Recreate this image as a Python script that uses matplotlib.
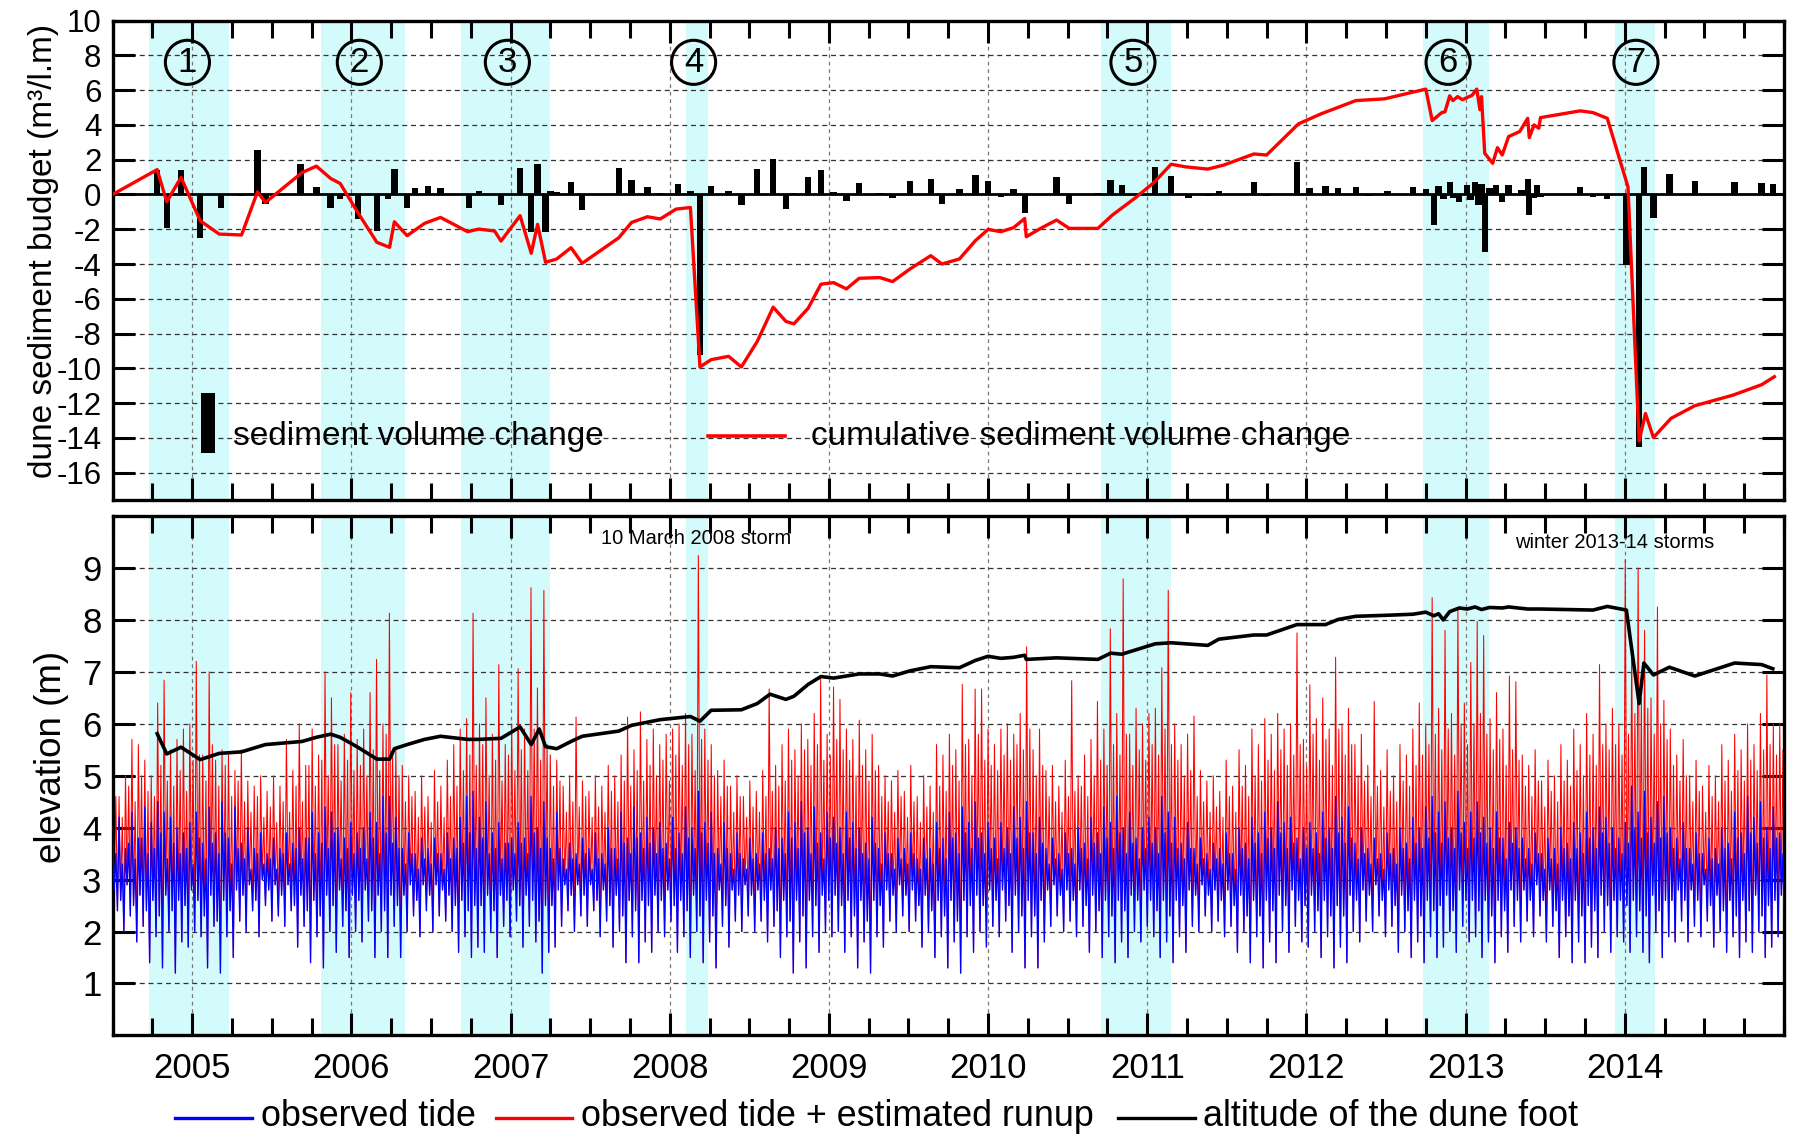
import numpy as np
import matplotlib
matplotlib.use('Agg')
import matplotlib.pyplot as plt
from matplotlib.ticker import FixedLocator, MultipleLocator
from matplotlib.lines import Line2D
from matplotlib.patches import Rectangle

plt.rcParams['font.family'] = ['Liberation Sans', 'DejaVu Sans']
plt.rcParams['axes.unicode_minus'] = False

# periodos de temporales (zonas sombreadas)
storm_start = [2004.73, 2005.81, 2006.69, 2008.10, 2010.71, 2012.73, 2013.94]
storm_end = [2005.23, 2006.34, 2007.25, 2008.24, 2011.15, 2013.15, 2014.19]
storm_mark = [2004.97, 2006.05, 2006.98, 2008.15, 2010.91, 2012.89, 2014.07]
storm_num = ['1', '2', '3', '4', '5', '6', '7']

# cambios de volumen entre levantamientos (barras)
bar_years = [2004.78, 2004.84, 2004.93, 2005.05, 2005.18, 2005.31, 2005.41, 2005.46, 2005.68, 2005.78,
             2005.87, 2005.93, 2006.04, 2006.16, 2006.23, 2006.27, 2006.35, 2006.40, 2006.48, 2006.56,
             2006.74, 2006.80, 2006.94, 2007.06, 2007.13, 2007.17, 2007.22, 2007.25, 2007.29, 2007.38,
             2007.45, 2007.68, 2007.76, 2007.86, 2007.94, 2008.05, 2008.13, 2008.19, 2008.26, 2008.37,
             2008.45, 2008.55, 2008.65, 2008.73, 2008.78, 2008.87, 2008.95, 2009.03, 2009.11, 2009.19,
             2009.32, 2009.40, 2009.51, 2009.64, 2009.71, 2009.82, 2009.92, 2010.00, 2010.08, 2010.16,
             2010.23, 2010.43, 2010.51, 2010.69, 2010.77, 2010.84, 2011.05, 2011.15, 2011.26, 2011.38,
             2011.45, 2011.67, 2011.75, 2011.94, 2012.02, 2012.12, 2012.20, 2012.31, 2012.39, 2012.51,
             2012.67, 2012.75, 2012.80, 2012.83, 2012.86, 2012.90, 2012.92, 2012.96, 2013.01, 2013.03,
             2013.06, 2013.08, 2013.10, 2013.12, 2013.15, 2013.19, 2013.23, 2013.27, 2013.35, 2013.39,
             2013.40, 2013.43, 2013.45, 2013.47, 2013.72, 2013.80, 2013.89, 2014.01, 2014.09, 2014.12,
             2014.18, 2014.28, 2014.44, 2014.69, 2014.86, 2014.93]
bar_values = [1.43, -1.95, 1.43, -2.52, -0.80, -0.10, 2.54, -0.55, 1.74, 0.44,
              -0.80, -0.27, -1.41, -2.10, -0.27, 1.49, -0.80, 0.38, 0.50, 0.40,
              -0.80, 0.21, -0.61, 1.55, -2.14, 1.74, -2.14, 0.19, 0.15, 0.73,
              -0.90, 1.55, 0.86, 0.44, 0.06, 0.59, 0.19, -9.22, 0.50, 0.21,
              -0.61, 1.49, 2.06, -0.84, 0.06, 0.98, 1.43, 0.15, -0.36, 0.67,
              0.10, -0.23, 0.76, 0.88, -0.52, 0.34, 1.11, 0.76, -0.13, 0.34,
              -1.09, 0.98, -0.52, 0.06, 0.82, 0.57, 1.59, 1.05, -0.23, -0.08,
              0.19, 0.73, -0.08, 1.85, 0.35, 0.48, 0.38, 0.44, -0.08, 0.19,
              0.44, 0.31, -1.77, 0.48, -0.25, 0.73, -0.23, -0.42, 0.54, -0.30,
              0.73, -0.61, 0.63, -3.33, 0.35, 0.57, -0.42, 0.54, 0.25, 0.88,
              -1.19, -0.23, 0.57, -0.15, 0.44, -0.13, -0.27, -4.04, -14.5, 1.59,
              -1.34, 1.15, 0.76, 0.69, 0.67, 0.63]

# cambio acumulado (linea roja)
cum_years = [2004.50, 2004.78, 2004.84, 2004.93, 2005.05, 2005.17, 2005.31, 2005.41, 2005.46, 2005.69,
             2005.78, 2005.87, 2005.93, 2006.04, 2006.16, 2006.24, 2006.27, 2006.35, 2006.46, 2006.56,
             2006.73, 2006.80, 2006.90, 2006.94, 2007.06, 2007.13, 2007.17, 2007.22, 2007.29, 2007.38,
             2007.45, 2007.68, 2007.76, 2007.86, 2007.94, 2008.04, 2008.13, 2008.19, 2008.26, 2008.37,
             2008.45, 2008.55, 2008.65, 2008.73, 2008.78, 2008.87, 2008.95, 2009.03, 2009.11, 2009.19,
             2009.32, 2009.40, 2009.51, 2009.64, 2009.71, 2009.82, 2009.92, 2010.00, 2010.08, 2010.16,
             2010.23, 2010.24, 2010.33, 2010.43, 2010.51, 2010.69, 2010.78, 2010.92, 2011.04, 2011.15,
             2011.24, 2011.38, 2011.48, 2011.67, 2011.75, 2011.95, 2012.09, 2012.31, 2012.49, 2012.75,
             2012.79, 2012.85, 2012.87, 2012.90, 2012.92, 2012.95, 2012.98, 2013.01, 2013.04, 2013.07,
             2013.09, 2013.10, 2013.12, 2013.17, 2013.20, 2013.23, 2013.27, 2013.34, 2013.39, 2013.40,
             2013.43, 2013.46, 2013.47, 2013.72, 2013.80, 2013.89, 2014.02, 2014.09, 2014.13, 2014.18,
             2014.29, 2014.44, 2014.68, 2014.86, 2014.94]
cum_values = [0.00, 1.43, -0.42, 0.98, -1.51, -2.28, -2.33, 0.15, -0.46, 1.26,
              1.63, 0.92, 0.63, -1.03, -2.75, -3.04, -1.57, -2.37, -1.66, -1.32,
              -2.14, -1.99, -2.10, -2.68, -1.22, -3.38, -1.72, -3.90, -3.71, -3.06,
              -3.96, -2.49, -1.61, -1.28, -1.41, -0.84, -0.75, -9.92, -9.50, -9.31,
              -9.92, -8.45, -6.48, -7.30, -7.44, -6.54, -5.16, -5.07, -5.43, -4.82,
              -4.78, -5.01, -4.28, -3.52, -4.00, -3.71, -2.66, -2.01, -2.14, -1.91,
              -1.38, -2.43, -1.95, -1.47, -1.95, -1.95, -1.19, -0.23, 0.67, 1.74,
              1.59, 1.46, 1.69, 2.33, 2.27, 4.06, 4.63, 5.40, 5.50, 6.06,
              4.25, 4.71, 4.75, 5.67, 5.40, 5.63, 5.45, 5.58, 5.70, 6.06,
              4.87, 5.63, 2.37, 1.79, 2.69, 2.27, 3.33, 3.62, 4.38, 3.27,
              4.00, 3.81, 4.42, 4.81, 4.71, 4.38, 0.44, -14.17, -12.60, -13.98,
              -12.88, -12.15, -11.54, -10.94, -10.48]

# altitud del pie de duna
foot_years = [2004.78, 2004.84, 2004.93, 2005.05, 2005.17, 2005.31, 2005.46, 2005.69, 2005.78, 2005.87,
              2005.93, 2006.04, 2006.16, 2006.24, 2006.27, 2006.35, 2006.46, 2006.56, 2006.73, 2006.80,
              2006.94, 2007.06, 2007.13, 2007.18, 2007.22, 2007.29, 2007.38, 2007.45, 2007.68, 2007.76,
              2007.94, 2008.13, 2008.19, 2008.26, 2008.45, 2008.55, 2008.63, 2008.73, 2008.78, 2008.87,
              2008.95, 2009.03, 2009.19, 2009.32, 2009.40, 2009.51, 2009.64, 2009.82, 2009.92, 2010.00,
              2010.08, 2010.16, 2010.23, 2010.24, 2010.43, 2010.69, 2010.77, 2010.84, 2011.05, 2011.15,
              2011.38, 2011.45, 2011.67, 2011.75, 2011.94, 2012.12, 2012.20, 2012.31, 2012.51, 2012.67,
              2012.75, 2012.80, 2012.83, 2012.86, 2012.90, 2012.96, 2013.01, 2013.06, 2013.10, 2013.15,
              2013.23, 2013.27, 2013.39, 2013.47, 2013.80, 2013.89, 2014.01, 2014.09, 2014.12, 2014.18,
              2014.28, 2014.44, 2014.69, 2014.86, 2014.93]
foot_values = [5.81, 5.42, 5.55, 5.31, 5.43, 5.46, 5.60, 5.66, 5.74, 5.80,
               5.74, 5.55, 5.32, 5.32, 5.52, 5.60, 5.70, 5.76, 5.70, 5.70,
               5.72, 5.94, 5.60, 5.90, 5.56, 5.52, 5.66, 5.76, 5.86, 5.97,
               6.08, 6.14, 6.05, 6.26, 6.27, 6.39, 6.57, 6.47, 6.53, 6.76,
               6.91, 6.88, 6.96, 6.96, 6.92, 7.02, 7.10, 7.08, 7.22, 7.30,
               7.26, 7.28, 7.32, 7.24, 7.27, 7.24, 7.36, 7.34, 7.54, 7.56,
               7.51, 7.63, 7.71, 7.71, 7.91, 7.91, 8.01, 8.07, 8.09, 8.11,
               8.15, 8.08, 8.12, 8.00, 8.16, 8.23, 8.21, 8.25, 8.20, 8.24,
               8.23, 8.25, 8.21, 8.21, 8.19, 8.26, 8.19, 6.39, 7.17, 6.94,
               7.09, 6.92, 7.17, 7.14, 7.06]

# marea observada, por ciclo quincenal: pleamar viva, valle, pico secundario, valle profundo
tide_high = [3.9, 4.2, 3.6, 4.3, 3.8, 4.4, 4.1, 4.5, 4.3, 4.2, 4.0, 3.9, 4.1,
             4.3, 3.7, 4.4, 3.9, 4.5, 3.8, 4.4, 3.7, 4.0, 3.6, 3.9, 3.5, 3.8, 3.6, 3.9, 3.7, 4.0, 3.8, 4.3, 3.9, 4.4, 4.3, 4.0, 3.8, 4.1,
             3.9, 4.0, 4.3, 4.1, 4.6, 4.6, 4.2, 3.6, 3.9, 3.5, 3.8, 3.6, 3.8, 3.5, 3.9, 3.8, 4.2, 4.6, 4.7, 4.2, 4.5, 3.9, 4.1, 3.7, 3.8,
             4.1, 3.8, 4.6, 4.0, 4.5, 3.6, 4.3, 3.4, 3.7, 3.5, 3.8, 3.6, 3.9, 3.5, 4.0, 3.6, 4.3, 3.8, 4.4, 3.9, 4.2, 4.0, 4.1, 3.7,
             4.2, 3.9, 4.4, 4.0, 4.7, 4.1, 4.3, 3.6, 4.1, 3.5, 3.9, 3.4, 3.8, 3.5, 3.9, 3.6, 4.0, 3.8, 4.3, 4.1, 4.5, 4.0, 4.4, 3.9, 4.3,
             4.2, 4.0, 4.3, 4.1, 4.0, 3.7, 4.2, 3.6, 3.9, 3.5, 3.8, 3.6, 3.9, 3.4, 3.8, 3.6, 4.1, 3.8, 4.3, 3.9, 4.4, 4.1, 4.5, 3.9, 4.1,
             3.8, 4.1, 4.0, 4.4, 4.2, 4.5, 3.9, 4.2, 3.6, 3.8, 3.5, 3.9, 3.6, 4.0, 3.7, 4.2, 3.9, 4.4, 4.1, 4.6, 4.0, 4.3, 3.8, 4.0,
             4.2, 4.0, 4.6, 4.3, 4.2, 3.7, 4.1, 3.6, 3.8, 3.5, 3.7, 3.6, 3.9, 3.5, 4.0, 3.7, 4.2, 3.9, 4.3, 4.0, 4.5, 4.1, 4.2, 3.8, 4.0,
             4.1, 3.9, 4.3, 4.0, 4.6, 4.2, 4.4, 3.7, 4.0, 3.6, 3.8, 3.5, 3.9, 3.6, 4.0, 3.7, 4.2, 4.0, 4.4, 4.6, 4.3, 4.5, 4.0, 4.7, 4.1,
             4.3, 4.5, 4.2, 4.0, 4.3, 3.8, 4.1, 4.0, 3.8, 3.6, 3.9, 3.5, 3.8, 3.6, 4.0, 3.7, 4.1, 3.9, 4.3, 4.0, 4.4, 4.2, 4.0, 3.8, 4.1,
             4.8, 4.3, 4.7, 4.2, 4.5, 4.6, 4.0, 3.8, 4.1, 3.6, 3.9, 3.5, 3.8, 3.6, 4.0, 3.7, 4.3, 3.9, 4.6, 4.2, 4.5, 4.0, 4.4, 3.9]
tide_mid_low = [2.8, 2.6, 2.9, 2.5, 2.7, 2.4, 2.6, 2.3, 2.7, 2.4, 2.6, 2.5, 2.8,
                2.6, 2.3, 2.7, 2.2, 2.6, 2.4, 2.8, 2.7, 2.9, 2.6, 3.0, 2.8, 2.9, 2.7, 2.9, 2.5, 2.7, 2.4, 2.6, 2.3, 2.7, 2.5, 2.8, 2.4, 2.7,
                2.6, 2.8, 2.4, 2.7, 2.4, 2.7, 2.5, 2.7, 2.9, 2.6, 2.9, 2.7, 2.9, 2.8, 2.7, 2.5, 2.6, 2.4, 2.5, 2.5, 2.7, 2.4, 2.7, 2.6, 2.8,
                2.5, 2.7, 2.6, 2.2, 2.5, 2.5, 2.8, 2.9, 2.7, 2.9, 2.7, 2.9, 2.6, 2.8, 2.5, 2.7, 2.3, 2.6, 2.4, 2.6, 2.5, 2.7, 2.6, 2.8,
                2.5, 2.6, 2.4, 2.7, 2.3, 2.6, 2.3, 2.8, 2.5, 2.8, 2.7, 2.9, 2.7, 2.8, 2.6, 2.8, 2.4, 2.6, 2.2, 2.6, 2.3, 2.6, 2.5, 2.7, 2.6,
                2.7, 2.5, 2.6, 2.3, 2.6, 2.2, 2.6, 2.5, 2.8, 2.7, 2.9, 2.7, 2.8, 2.5, 2.7, 2.4, 2.6, 2.3, 2.6, 2.2, 2.6, 2.5, 2.7, 2.5, 2.8,
                2.6, 2.8, 2.5, 2.7, 2.3, 2.6, 2.3, 2.6, 2.8, 2.9, 2.7, 2.8, 2.6, 2.8, 2.5, 2.7, 2.4, 2.6, 2.3, 2.6, 2.4, 2.7, 2.6, 2.8,
                2.6, 2.4, 2.6, 2.3, 2.6, 2.5, 2.8, 2.7, 2.9, 2.7, 2.8, 2.6, 2.8, 2.5, 2.7, 2.3, 2.6, 2.3, 2.6, 2.4, 2.7, 2.5, 2.8, 2.6, 2.5,
                2.7, 2.4, 2.6, 2.3, 2.5, 2.3, 2.7, 2.6, 2.8, 2.7, 2.9, 2.6, 2.8, 2.5, 2.7, 2.4, 2.6, 2.3, 2.6, 2.4, 2.5, 2.7, 2.4, 2.8, 2.6,
                2.6, 2.4, 2.6, 2.3, 2.6, 2.4, 2.8, 2.6, 2.8, 2.6, 2.9, 2.6, 2.8, 2.4, 2.6, 2.3, 2.6, 2.3, 2.5, 2.4, 2.7, 2.5, 2.6, 2.6, 2.5,
                2.6, 2.4, 2.3, 2.7, 2.4, 2.6, 2.6, 2.8, 2.6, 2.8, 2.6, 2.9, 2.5, 2.7, 2.4, 2.6, 2.3, 2.6, 2.4, 2.7, 2.3, 2.5, 2.6, 2.7]
tide_mid = [3.5, 3.3, 3.7, 3.4, 3.8, 3.5, 3.6, 3.9, 3.4, 3.7, 3.5, 3.6, 3.3,
            3.8, 3.4, 3.7, 3.5, 3.9, 3.3, 3.6, 3.4, 3.2, 3.5, 3.3, 3.4, 3.2, 3.5, 3.3, 3.6, 3.4, 3.8, 3.5, 3.7, 3.6, 3.9, 3.4, 3.6, 3.5,
            3.6, 3.4, 3.8, 3.5, 3.9, 3.7, 3.6, 3.3, 3.5, 3.2, 3.4, 3.3, 3.5, 3.2, 3.4, 3.6, 3.7, 3.9, 3.6, 3.8, 3.5, 3.6, 3.4, 3.7, 3.5,
            3.7, 3.5, 3.9, 3.6, 3.8, 3.4, 3.6, 3.2, 3.4, 3.3, 3.5, 3.2, 3.4, 3.3, 3.6, 3.4, 3.7, 3.5, 3.8, 3.6, 3.7, 3.5, 3.6, 3.4,
            3.6, 3.5, 3.8, 3.6, 3.9, 3.7, 3.5, 3.3, 3.6, 3.2, 3.5, 3.2, 3.4, 3.3, 3.5, 3.4, 3.6, 3.5, 3.8, 3.6, 3.9, 3.5, 3.7, 3.4, 3.8,
            3.7, 3.5, 3.8, 3.6, 3.5, 3.4, 3.7, 3.3, 3.5, 3.2, 3.4, 3.3, 3.5, 3.2, 3.4, 3.3, 3.6, 3.4, 3.8, 3.5, 3.9, 3.6, 3.8, 3.5, 3.6,
            3.4, 3.6, 3.5, 3.8, 3.6, 3.9, 3.5, 3.7, 3.3, 3.4, 3.2, 3.5, 3.3, 3.6, 3.4, 3.7, 3.5, 3.8, 3.6, 3.9, 3.5, 3.7, 3.4, 3.6,
            3.7, 3.5, 3.9, 3.7, 3.6, 3.4, 3.6, 3.3, 3.4, 3.2, 3.4, 3.3, 3.5, 3.2, 3.6, 3.4, 3.7, 3.5, 3.8, 3.6, 3.9, 3.6, 3.7, 3.4, 3.6,
            3.6, 3.5, 3.8, 3.6, 3.9, 3.7, 3.8, 3.4, 3.5, 3.3, 3.4, 3.2, 3.5, 3.3, 3.6, 3.4, 3.7, 3.6, 3.8, 3.9, 3.7, 3.8, 3.6, 3.9, 3.6,
            3.8, 3.9, 3.7, 3.6, 3.8, 3.4, 3.7, 3.6, 3.4, 3.3, 3.5, 3.2, 3.4, 3.3, 3.6, 3.4, 3.6, 3.5, 3.8, 3.6, 3.9, 3.7, 3.6, 3.5, 3.7,
            4.0, 3.8, 3.9, 3.7, 3.8, 3.9, 3.6, 3.4, 3.6, 3.3, 3.5, 3.2, 3.4, 3.3, 3.6, 3.4, 3.8, 3.5, 3.9, 3.7, 3.8, 3.6, 3.8, 3.5]
tide_low = [2.4, 2.0, 2.3, 1.8, 2.1, 1.4, 1.9, 1.3, 2.0, 1.2, 1.8, 1.7, 2.0,
            1.9, 1.3, 2.1, 1.2, 1.9, 1.5, 2.2, 2.0, 2.4, 1.9, 2.5, 2.2, 2.3, 2.1, 2.4, 1.7, 2.1, 1.4, 1.9, 1.3, 2.0, 1.6, 2.1, 1.5, 2.0,
            1.8, 2.2, 1.5, 2.0, 1.5, 2.1, 1.5, 2.0, 2.3, 1.9, 2.4, 2.0, 2.3, 2.2, 2.0, 1.6, 1.9, 1.5, 1.7, 1.6, 2.0, 1.5, 2.1, 1.9, 2.2,
            1.7, 2.1, 1.8, 1.2, 1.6, 1.7, 2.1, 2.4, 2.0, 2.3, 2.1, 2.4, 1.9, 2.2, 1.7, 2.0, 1.4, 1.9, 1.4, 1.8, 1.6, 2.0, 1.9, 2.2,
            1.6, 1.9, 1.5, 2.0, 1.4, 1.8, 1.3, 2.1, 1.7, 2.2, 2.0, 2.3, 2.0, 2.2, 1.8, 2.1, 1.5, 1.9, 1.2, 1.8, 1.3, 1.9, 1.6, 2.0, 1.9,
            2.0, 1.6, 1.9, 1.3, 1.8, 1.2, 1.9, 1.7, 2.2, 2.0, 2.3, 2.0, 2.2, 1.7, 2.0, 1.5, 1.9, 1.3, 1.8, 1.2, 1.9, 1.6, 2.0, 1.7, 2.1,
            1.9, 2.2, 1.6, 2.0, 1.3, 1.9, 1.3, 1.8, 2.1, 2.3, 2.0, 2.2, 1.9, 2.1, 1.6, 2.0, 1.5, 1.9, 1.4, 1.8, 1.5, 2.0, 1.8, 2.1,
            1.9, 1.5, 1.8, 1.4, 1.9, 1.6, 2.1, 2.0, 2.3, 2.0, 2.2, 1.9, 2.1, 1.6, 2.0, 1.4, 1.9, 1.3, 1.8, 1.4, 2.0, 1.6, 2.1, 1.8, 1.7,
            2.0, 1.5, 1.9, 1.3, 1.7, 1.4, 2.0, 1.8, 2.2, 2.0, 2.3, 1.9, 2.1, 1.6, 2.0, 1.5, 1.8, 1.4, 1.9, 1.5, 1.7, 2.0, 1.6, 2.1, 1.8,
            1.9, 1.5, 1.8, 1.4, 1.9, 1.6, 2.1, 1.8, 2.2, 1.9, 2.3, 1.8, 2.1, 1.5, 1.9, 1.4, 1.8, 1.4, 1.7, 1.5, 2.0, 1.6, 1.9, 1.8, 1.6,
            1.9, 1.6, 1.4, 2.0, 1.5, 1.9, 1.8, 2.2, 1.8, 2.1, 1.9, 2.2, 1.7, 2.0, 1.6, 1.9, 1.5, 1.8, 1.6, 2.0, 1.5, 1.7, 1.9, 2.0]
# marea + runup estimado: pico principal y pico secundario de cada ciclo
runup_high = [5.3, 4.6, 5.0, 5.7, 5.6, 5.3, 5.0, 6.4, 6.84, 5.5, 5.7, 5.9, 6.0,
              7.2, 5.4, 7.0, 5.3, 5.5, 5.4, 5.1, 5.5, 4.9, 4.8, 5.0, 4.7, 5.0, 4.8, 5.7, 5.1, 6.0, 5.2, 5.9, 5.4, 7.0, 6.5, 5.6, 5.8, 6.6,
              5.7, 5.9, 6.6, 7.24, 6.0, 8.13, 5.5, 5.2, 5.0, 4.7, 5.0, 4.6, 5.1, 4.8, 5.3, 5.6, 5.9, 6.1, 8.13, 6.0, 6.5, 5.8, 7.14, 5.6, 6.0,
              7.06, 5.9, 8.62, 6.69, 8.57, 5.4, 5.3, 4.8, 5.0, 6.13, 4.9, 4.7, 5.0, 4.8, 5.2, 5.0, 5.4, 6.13, 5.5, 6.23, 5.7, 5.9, 5.6, 5.8,
              5.9, 6.0, 6.2, 5.8, 9.24, 5.9, 5.6, 5.1, 5.3, 4.8, 5.0, 4.6, 4.9, 4.7, 5.1, 6.67, 5.2, 5.6, 5.9, 5.5, 6.0, 5.7, 6.2, 6.87, 5.8,
              6.71, 6.47, 5.9, 5.7, 6.07, 5.5, 5.8, 5.2, 5.0, 4.9, 5.1, 4.7, 5.2, 4.6, 5.0, 4.8, 5.6, 5.4, 5.8, 5.5, 6.76, 5.7, 6.67, 6.67, 5.9,
              5.6, 5.9, 6.0, 5.8, 6.2, 7.48, 5.5, 5.9, 5.1, 5.2, 4.8, 5.3, 6.83, 5.0, 5.4, 5.7, 6.43, 5.9, 7.83, 6.2, 8.79, 5.8, 6.3, 6.0,
              6.2, 6.3, 7.08, 8.57, 6.0, 5.6, 5.8, 6.15, 5.1, 4.9, 5.0, 4.7, 5.3, 4.8, 5.5, 5.2, 5.9, 5.6, 6.1, 5.8, 6.2, 5.9, 6.0, 7.75, 5.7,
              6.75, 6.1, 6.5, 5.9, 7.28, 6.0, 6.3, 5.6, 5.8, 5.2, 6.43, 5.1, 5.5, 5.0, 5.6, 5.4, 5.9, 6.4, 6.0, 8.43, 6.3, 7.8, 6.2, 8.23, 6.4,
              7.18, 7.97, 7.7, 6.1, 6.6, 5.9, 6.92, 6.81, 5.4, 5.2, 5.5, 4.9, 5.3, 5.0, 5.6, 5.3, 5.9, 5.6, 6.2, 5.8, 7.14, 6.0, 6.3, 6.0, 9.16,
              7.5, 9.0, 7.8, 6.5, 8.25, 6.45, 5.9, 5.4, 5.7, 5.0, 5.3, 4.8, 5.2, 5.0, 5.6, 5.3, 5.8, 5.5, 6.0, 5.6, 6.2, 6.94, 6.0, 6.01]
runup_mid = [4.6, 4.2, 4.8, 4.5, 5.0, 4.7, 4.6, 5.2, 4.9, 4.8, 5.1, 4.7, 5.3,
             5.4, 4.9, 5.6, 4.8, 5.2, 4.6, 4.9, 4.5, 4.3, 4.6, 4.2, 4.4, 4.1, 4.5, 4.3, 4.8, 4.5, 5.2, 4.8, 5.3, 5.0, 5.6, 4.9, 5.3, 5.1,
             5.2, 5.0, 5.5, 5.1, 5.8, 5.4, 5.0, 4.5, 4.6, 4.2, 4.4, 4.1, 4.5, 4.2, 4.6, 4.8, 5.1, 5.4, 5.2, 5.6, 5.0, 5.3, 4.9, 5.4, 5.1,
             5.5, 5.1, 5.9, 5.3, 5.6, 4.8, 4.9, 4.3, 4.5, 4.4, 4.6, 4.2, 4.4, 4.3, 4.7, 4.5, 4.9, 4.8, 5.1, 4.9, 5.2, 5.0, 5.3, 4.9,
             5.4, 5.2, 5.6, 5.1, 5.7, 5.3, 5.0, 4.6, 4.8, 4.3, 4.6, 4.2, 4.4, 4.3, 4.6, 4.7, 4.8, 4.9, 5.3, 5.0, 5.5, 5.2, 5.6, 5.3, 5.4,
             5.7, 5.5, 5.3, 5.0, 5.2, 4.9, 5.1, 4.6, 4.5, 4.3, 4.6, 4.2, 4.5, 4.1, 4.4, 4.3, 4.8, 4.7, 5.2, 4.9, 5.6, 5.0, 5.8, 5.3, 5.2,
             5.1, 5.4, 5.3, 5.6, 5.5, 5.9, 5.0, 5.2, 4.6, 4.5, 4.3, 4.6, 4.7, 4.8, 4.6, 5.0, 5.3, 5.2, 5.6, 5.4, 5.8, 5.2, 5.5, 5.3,
             5.6, 5.4, 5.9, 5.6, 5.3, 5.0, 5.1, 4.6, 4.5, 4.3, 4.4, 4.2, 4.6, 4.3, 4.8, 4.6, 5.0, 4.9, 5.3, 5.1, 5.5, 5.2, 5.4, 5.6, 5.2,
             5.8, 5.3, 5.7, 5.2, 5.9, 5.4, 5.6, 5.0, 4.9, 4.6, 4.8, 4.4, 4.7, 4.5, 4.9, 4.8, 5.2, 5.4, 5.6, 5.8, 5.5, 5.9, 5.4, 6.0, 5.6,
             6.0, 6.2, 5.8, 5.5, 5.7, 5.2, 5.5, 5.3, 4.8, 4.6, 4.9, 4.4, 4.7, 4.5, 4.9, 4.8, 5.1, 5.0, 5.4, 5.2, 5.6, 5.5, 5.6, 5.4, 5.8,
             6.2, 6.5, 6.3, 5.8, 6.0, 5.7, 5.2, 4.9, 5.0, 4.5, 4.7, 4.3, 4.6, 4.5, 4.9, 4.7, 5.1, 4.9, 5.3, 5.1, 5.5, 5.6, 5.4, 5.5]

cyan = '#d4fbfb'

fig = plt.figure(figsize=(17.96, 11.45), dpi=100)
ax1 = fig.add_axes([0.0627, 0.5629, 0.9306, 0.4191])
ax2 = fig.add_axes([0.0627, 0.0957, 0.9306, 0.4536])

for ax in (ax1, ax2):
    for s, e in zip(storm_start, storm_end):
        ax.axvspan(s, e, color=cyan, lw=0, zorder=0)
    ax.set_xlim(2004.5, 2015.0)
    ax.xaxis.set_major_locator(FixedLocator(range(2005, 2015)))
    ax.xaxis.set_minor_locator(MultipleLocator(0.25))
    ax.tick_params(which='both', direction='in', top=True, right=True, width=2.2)
    ax.tick_params(which='major', length=16)
    ax.tick_params(which='minor', length=12)
    ax.grid(axis='y', which='major', ls=(0, (4, 3)), color='#333333', lw=0.9)
    ax.grid(axis='x', which='major', ls=(0, (3, 3)), color='#777777', lw=0.9)
    ax.set_axisbelow(True)
    for sp in ax.spines.values():
        sp.set_linewidth(2.4)

# panel superior: balance sedimentario
ax1.bar(bar_years, bar_values, width=0.04, color='black', zorder=2)
ax1.axhline(0, color='black', lw=2, zorder=2)
ax1.plot(cum_years, cum_values, color='#ff0000', lw=2.4, zorder=3)
ax1.set_ylim(-17.6, 10)
ax1.yaxis.set_major_locator(FixedLocator(range(-16, 11, 2)))
ax1.tick_params(axis='y', labelsize=22.5, pad=8)
ax1.tick_params(axis='x', labelbottom=False)
ax1.set_ylabel('dune sediment budget (m³/l.m)', fontsize=24)
ax1.yaxis.set_label_coords(-0.032, 0.52)
for xm, n in zip(storm_mark, storm_num):
    ax1.text(xm, 7.6, n, ha='center', va='center', fontsize=25, zorder=4,
             bbox=dict(boxstyle='circle,pad=0.16', fc='none', ec='black', lw=2.2))

# panel inferior: marea y pie de duna
n_pts = 4 * len(tide_high)
t_tide = 2004.5 + np.arange(n_pts) * (14.77 / 4 / 365.25)
blue = np.column_stack([tide_high, tide_mid_low, tide_mid, tide_low]).ravel()
red = np.column_stack([runup_high, tide_mid_low, runup_mid, tide_low]).ravel()
ax2.plot(t_tide, red, color='#ff0000', lw=0.75, zorder=2)
ax2.plot(t_tide, blue, color='#0000ff', lw=0.95, zorder=3)
ax2.plot(foot_years, foot_values, color='black', lw=2.6, zorder=4)
ax2.set_ylim(0, 10)
ax2.yaxis.set_major_locator(FixedLocator(range(1, 10)))
ax2.tick_params(axis='y', labelsize=25, pad=8)
ax2.tick_params(axis='x', labelsize=25, pad=12)
ax2.set_ylabel('elevation (m)', fontsize=26.5)
ax2.yaxis.set_label_coords(-0.026, 0.537)
ax2.text(2007.57, 9.57, '10 March 2008 storm', fontsize=14.5, va='center', ha='left')
ax2.text(2013.31, 9.5, 'winter 2013-14 storms', fontsize=14.5, va='center', ha='left')

# leyenda del panel superior
W, H = 1796.0, 1145.0
fig.add_artist(Rectangle((201 / W, 1 - 453 / H), 14 / W, 60 / H, transform=fig.transFigure,
                         color='black', lw=0))
fig.text(233 / W, 1 - 437 / H, 'sediment volume change', fontsize=24, va='center', ha='left')
fig.add_artist(Line2D([708 / W, 785 / W], [1 - 436 / H, 1 - 436 / H], transform=fig.transFigure,
                      color='#ff0000', lw=2.6))
fig.text(811 / W, 1 - 437 / H, 'cumulative sediment volume change', fontsize=24, va='center', ha='left')

# leyenda del panel inferior
leg_items = [(175, 252, 261, '#0000ff', 'observed tide'),
             (496, 572, 581, '#ff0000', 'observed tide + estimated runup'),
             (1118, 1195, 1203, 'black', 'altitude of the dune foot')]
for x0, x1, xt, c, lab in leg_items:
    fig.add_artist(Line2D([x0 / W, x1 / W], [1 - 1118 / H, 1 - 1118 / H], transform=fig.transFigure,
                          color=c, lw=2.4))
    fig.text(xt / W, 1 - 1117 / H, lab, fontsize=25.8, va='center', ha='left')

fig.savefig('out.png', dpi=100)
